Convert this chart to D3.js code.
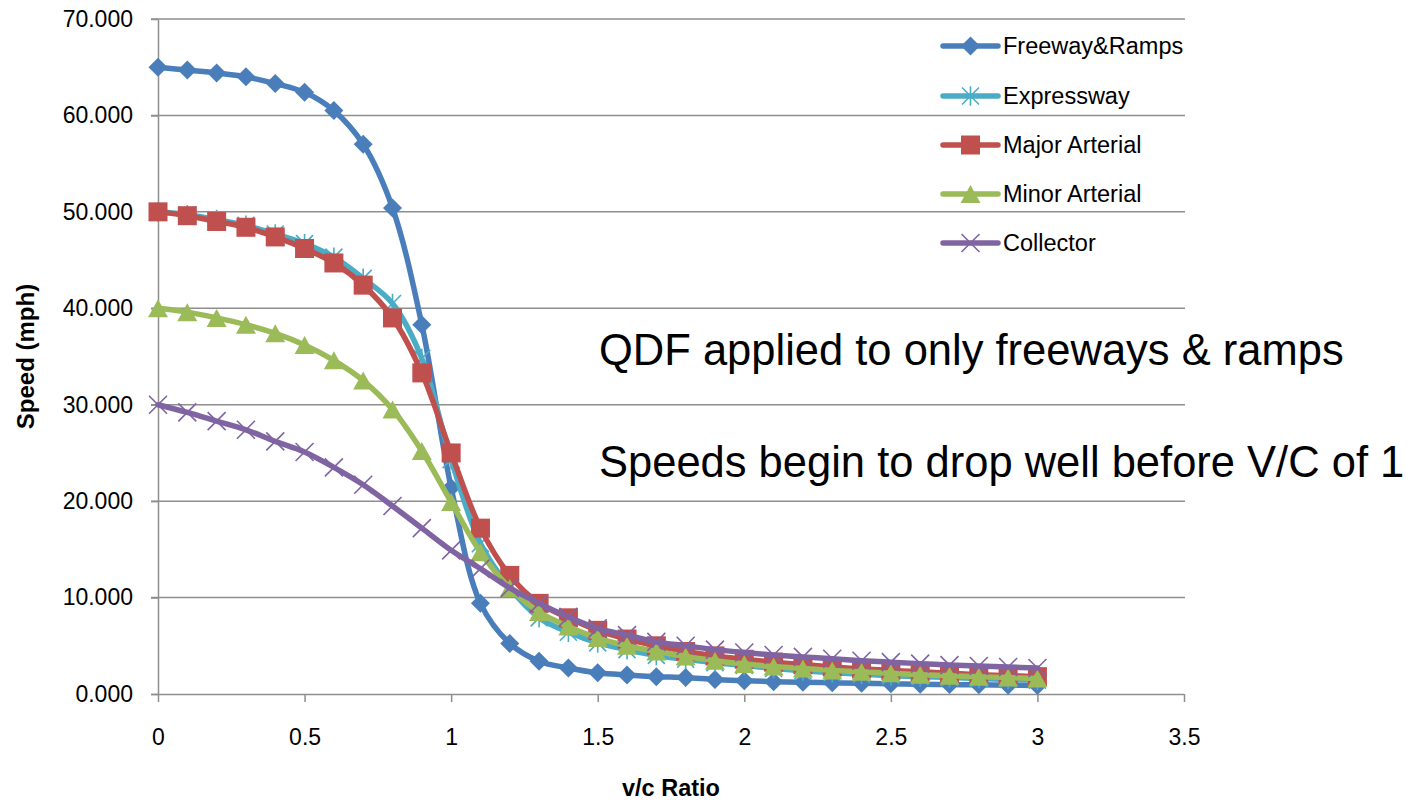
<!DOCTYPE html>
<html>
<head>
<meta charset="utf-8">
<script src="https://cdn.jsdelivr.net/npm/d3@7"></script>
<style>
  html, body { margin: 0; padding: 0; background: #fff; }
  svg { display: block; }
  text { font-family: "Liberation Sans", Arial, sans-serif; fill: #000; }
</style>
</head>
<body>
<svg id="chart" width="1423" height="802"></svg>
<script>
// ---- Data ----
const vcRatio = [0,0.1,0.2,0.3,0.4,0.5,0.6,0.7,0.8,0.9,1.0,1.1,1.2,1.3,1.4,1.5,1.6,1.7,1.8,1.9,2.0,2.1,2.2,2.3,2.4,2.5,2.6,2.7,2.8,2.9,3.0];

const freewayRamps   = [65.0,64.7,64.4,64.0,63.3,62.4,60.5,57.0,50.4,38.3,21.4,9.4,5.25,3.4,2.7,2.2,1.97,1.8,1.7,1.5,1.38,1.28,1.22,1.16,1.11,1.06,1.02,0.98,0.95,0.92,0.89];
const expressway     = [50.0,49.7,49.2,48.6,47.7,46.7,45.3,43.1,40.5,34.8,24.3,15.6,11.0,7.9,6.4,5.3,4.6,4.0,3.6,3.25,2.95,2.65,2.4,2.2,2.05,1.9,1.8,1.7,1.6,1.5,1.42];
const majorArterial  = [50.0,49.6,49.0,48.4,47.4,46.2,44.7,42.4,39.0,33.3,25.0,17.2,12.3,9.4,7.9,6.6,5.7,5.0,4.4,3.95,3.6,3.3,3.05,2.8,2.6,2.45,2.3,2.15,2.0,1.9,1.8];
const minorArterial  = [40.0,39.6,39.0,38.3,37.4,36.2,34.6,32.5,29.5,25.2,19.9,14.7,11.0,8.5,7.0,5.8,5.0,4.4,3.9,3.45,3.1,2.85,2.65,2.45,2.3,2.15,2.0,1.9,1.8,1.7,1.6];
const collector      = [30.0,29.2,28.3,27.4,26.2,25.1,23.5,21.7,19.5,17.2,14.9,13.0,11.0,9.4,8.0,6.8,6.1,5.4,5.0,4.6,4.3,4.05,3.85,3.65,3.45,3.3,3.15,3.0,2.9,2.8,2.7];

const seriesNames  = ["Freeway&Ramps","Expressway","Major Arterial","Minor Arterial","Collector"];
const seriesValues = [freewayRamps, expressway, majorArterial, minorArterial, collector];
const seriesColors = ["#4a7ebb","#4bacc6","#c0504d","#9bbb59","#8064a2"];
const seriesMarkers = ["diamond","star","square","triangle","x"];

const xTicks = [0,0.5,1,1.5,2,2.5,3,3.5];
const yTicks = [0,10,20,30,40,50,60,70];

const annotations = ["QDF applied to only freeways & ramps","Speeds begin to drop well before V/C of 1"];
const xTitle = "v/c Ratio";
const yTitle = "Speed (mph)";

// ---- Layout ----
const svg = d3.select("#chart");
const x = d3.scaleLinear().domain([0,3.5]).range([158,1184]);
const y = d3.scaleLinear().domain([0,70]).range([694,19]);
const gridColor = "#8e8e8e";

// gridlines
svg.append("g").selectAll("line").data(yTicks.filter(d => d !== 0)).join("line")
  .attr("x1", 151).attr("x2", x(3.5) + 1)
  .attr("y1", d => y(d)).attr("y2", d => y(d))
  .attr("stroke", gridColor).attr("stroke-width", 1.5);

// y axis
const yAxis = svg.append("g").attr("transform", `translate(${x(0)},0)`)
  .call(d3.axisLeft(y).tickValues(yTicks).tickFormat(d3.format(".3f")).tickSize(7).tickPadding(18).tickSizeOuter(0));
yAxis.select(".domain").attr("stroke", gridColor).attr("stroke-width", 1.5);
yAxis.selectAll(".tick line").attr("stroke", gridColor).attr("stroke-width", 1.5);
yAxis.selectAll(".tick text").attr("font-size", 23).attr("font-family", "Liberation Sans, Arial, sans-serif").attr("fill", "#000");

// x axis
const xAxis = svg.append("g").attr("transform", `translate(0,${y(0)})`)
  .call(d3.axisBottom(x).tickValues(xTicks).tickFormat(d3.format("")).tickSize(8).tickPadding(27).tickSizeOuter(0));
xAxis.select(".domain").attr("stroke", gridColor).attr("stroke-width", 1.5).attr("d", `M${151},0.5H${x(3.5)}`);
xAxis.selectAll(".tick line").attr("stroke", gridColor).attr("stroke-width", 1.5);
xAxis.selectAll(".tick text").attr("font-size", 23).attr("font-family", "Liberation Sans, Arial, sans-serif").attr("fill", "#000");

// axis titles
svg.append("text").attr("x", (x(0)+x(3.5))/2).attr("y", 796)
  .attr("text-anchor", "middle").attr("font-size", 23.5).attr("font-weight", "bold").text(xTitle);
svg.append("text").attr("transform", `translate(34,${(y(0)+y(70))/2}) rotate(-90)`)
  .attr("text-anchor", "middle").attr("font-size", 24).attr("font-weight", "bold").text(yTitle);

// marker drawing
function drawMarker(g, type, color, cx, cy) {
  if (type === "diamond") {
    const r = 9.5;
    g.append("path").attr("d", `M${cx},${cy-r}L${cx+r},${cy}L${cx},${cy+r}L${cx-r},${cy}Z`).attr("fill", color);
  } else if (type === "square") {
    const s = 19;
    g.append("rect").attr("x", cx - s/2).attr("y", cy - s/2).attr("width", s).attr("height", s).attr("fill", color);
  } else if (type === "triangle") {
    const w = 20, h = 18;
    g.append("path").attr("d", `M${cx},${cy-h/2}L${cx+w/2},${cy+h/2}L${cx-w/2},${cy+h/2}Z`).attr("fill", color);
  } else if (type === "star") {
    const r = 8.5;
    g.append("path").attr("d", `M${cx-r},${cy-r}L${cx+r},${cy+r}M${cx-r},${cy+r}L${cx+r},${cy-r}M${cx},${cy-r*1.15}L${cx},${cy+r*1.15}`)
      .attr("stroke", color).attr("stroke-width", 1.6).attr("fill", "none");
  } else if (type === "x") {
    const r = 9;
    g.append("path").attr("d", `M${cx-r},${cy-r}L${cx+r},${cy+r}M${cx-r},${cy+r}L${cx+r},${cy-r}`)
      .attr("stroke", color).attr("stroke-width", 1.6).attr("fill", "none");
  }
}

const line = d3.line().x(d => x(d[0])).y(d => y(d[1])).curve(d3.curveCatmullRom.alpha(0.5));

seriesValues.forEach((vals, i) => {
  const g = svg.append("g");
  const pts = vcRatio.map((v, j) => [v, vals[j]]);
  g.append("path").attr("d", line(pts)).attr("fill", "none")
    .attr("stroke", seriesColors[i]).attr("stroke-width", 5.5).attr("stroke-linejoin", "round").attr("stroke-linecap", "round");
  pts.forEach(p => drawMarker(g, seriesMarkers[i], seriesColors[i], x(p[0]), y(p[1])));
});

// legend
const legendY = [46, 96, 145, 194, 243];
seriesNames.forEach((name, i) => {
  const g = svg.append("g");
  g.append("line").attr("x1", 943).attr("x2", 998).attr("y1", legendY[i]).attr("y2", legendY[i])
    .attr("stroke", seriesColors[i]).attr("stroke-width", 5.5).attr("stroke-linecap", "round");
  drawMarker(g, seriesMarkers[i], seriesColors[i], 970.5, legendY[i]);
  g.append("text").attr("x", 1003).attr("y", legendY[i] + 8).attr("font-size", 23.5).text(name);
});

// annotations
svg.append("text").attr("x", 599).attr("y", 365).attr("font-size", 43.5).text(annotations[0]);
svg.append("text").attr("x", 599).attr("y", 477).attr("font-size", 43.5).text(annotations[1]);
</script>
</body>
</html>
